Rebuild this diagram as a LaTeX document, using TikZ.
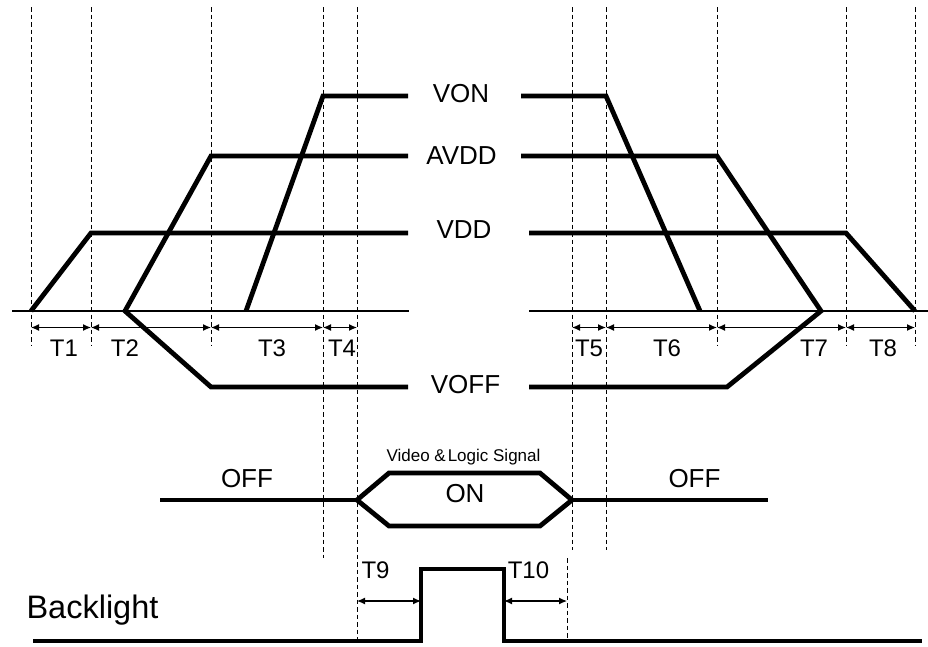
\documentclass[tikz,border=0pt]{standalone}
\usepackage{fontspec}
\setmainfont{Liberation Sans}
\usetikzlibrary{arrows.meta}
\tikzset{
  sig/.style={line width=4.8pt, line join=miter},
  bsig/.style={line width=4.4pt, line join=miter},
  guide/.style={line width=1pt, dash pattern=on 4.5pt off 3pt},
  axisline/.style={line width=1.2pt},
  dim/.style={line width=1.2pt, {Latex[length=8pt,width=7pt]}-{Latex[length=8pt,width=7pt]}},
  lbl/.style={anchor=base, inner sep=0pt, font=\fontsize{26}{30}\selectfont},
  tlbl/.style={anchor=base, inner sep=0pt, font=\fontsize{24}{28}\selectfont},
  small/.style={anchor=base, inner sep=0pt, font=\fontsize{17}{20}\selectfont},
  big/.style={anchor=base, inner sep=0pt, font=\fontsize{32.5}{38}\selectfont}
}
\begin{document}
\begin{tikzpicture}[x=1pt,y=-1pt]
\useasboundingbox (0,0) rectangle (928,646);
\fill[white] (0,0) rectangle (928,646);

% dashed guides
\foreach \x in {31,91,211,717,846,915} \draw[guide] (\x,7) -- (\x,345);
\draw[guide] (323,7) -- (323,558);
\draw[guide] (357,7) -- (357,640);
\draw[guide] (572,7) -- (572,550);
\draw[guide] (606,7) -- (606,550);
\draw[guide] (567,558) -- (567,640);

% baselines
\draw[axisline] (12,311) -- (409,311);
\draw[axisline] (529,311) -- (928,311);

% VDD
\draw[sig] (31,311) -- (91,233) -- (408,233);
\draw[sig] (529,233) -- (846,233) -- (915,311);
% AVDD / VOFF
\draw[sig] (408,387) -- (211,387) -- (125,311) -- (211,156) -- (408,156);
\draw[sig] (521,156) -- (717,156) -- (821,311) -- (727,387) -- (529,387);
% VON
\draw[sig] (246,311) -- (323,96) -- (408,96);
\draw[sig] (521,96) -- (606,96) -- (700,311);

% signal labels
\node[lbl] (von) at (461,102.5) {VON};
\node[lbl] (avdd) at (461.5,164) {AVDD};
\node[lbl] (vdd) at (464,238.5) {VDD};
\node[lbl] (voff) at (465.5,393.5) {VOFF};

% timing arrows
\draw[dim] (31,327.5) -- (91,327.5);
\draw[dim] (91,327.5) -- (211,327.5);
\draw[dim] (211,327.5) -- (323,327.5);
\draw[dim] (323,327.5) -- (357,327.5);
\draw[dim] (572,327.5) -- (606,327.5);
\draw[dim] (606,327.5) -- (717,327.5);
\draw[dim] (717,327.5) -- (846,327.5);
\draw[dim] (846,327.5) -- (915,327.5);

\node[tlbl] (t1) at (64,356) {T1};
\node[tlbl] (t2) at (125,356) {T2};
\node[tlbl] (t3) at (272,356) {T3};
\node[tlbl] (t4) at (342,356) {T4};
\node[tlbl] (t5) at (589,356) {T5};
\node[tlbl] (t6) at (667,356) {T6};
\node[tlbl] (t7) at (814,356) {T7};
\node[tlbl] (t8) at (883,356) {T8};

% video & logic signal
\draw[sig] (160,500) -- (357,500);
\draw[sig] (357,500) -- (389,473) -- (540,473) -- (572,500) -- (540,526) -- (389,526) -- cycle;
\draw[sig] (572,500) -- (768,500);
\node[small] (vls) at (463.5,461) {Video \&\hspace{2pt}Logic Signal};
\node[lbl] (on) at (465,502) {ON};
\node[lbl] (offl) at (247,487) {OFF};
\node[lbl] (offr) at (694.5,487) {OFF};

% backlight
\draw[bsig] (33,641) -- (421,641) -- (421,569) -- (504,569) -- (504,641) -- (922,641);
\draw[dim] (357,601) -- (421,601);
\draw[dim] (504,601) -- (567,601);
\node[tlbl] (t9) at (375.5,578.5) {T9};
\node[tlbl] (t10) at (528.5,578.5) {T10};
\node[big] (bl) at (92.5,618) {Backlight};
\end{tikzpicture}
\end{document}
